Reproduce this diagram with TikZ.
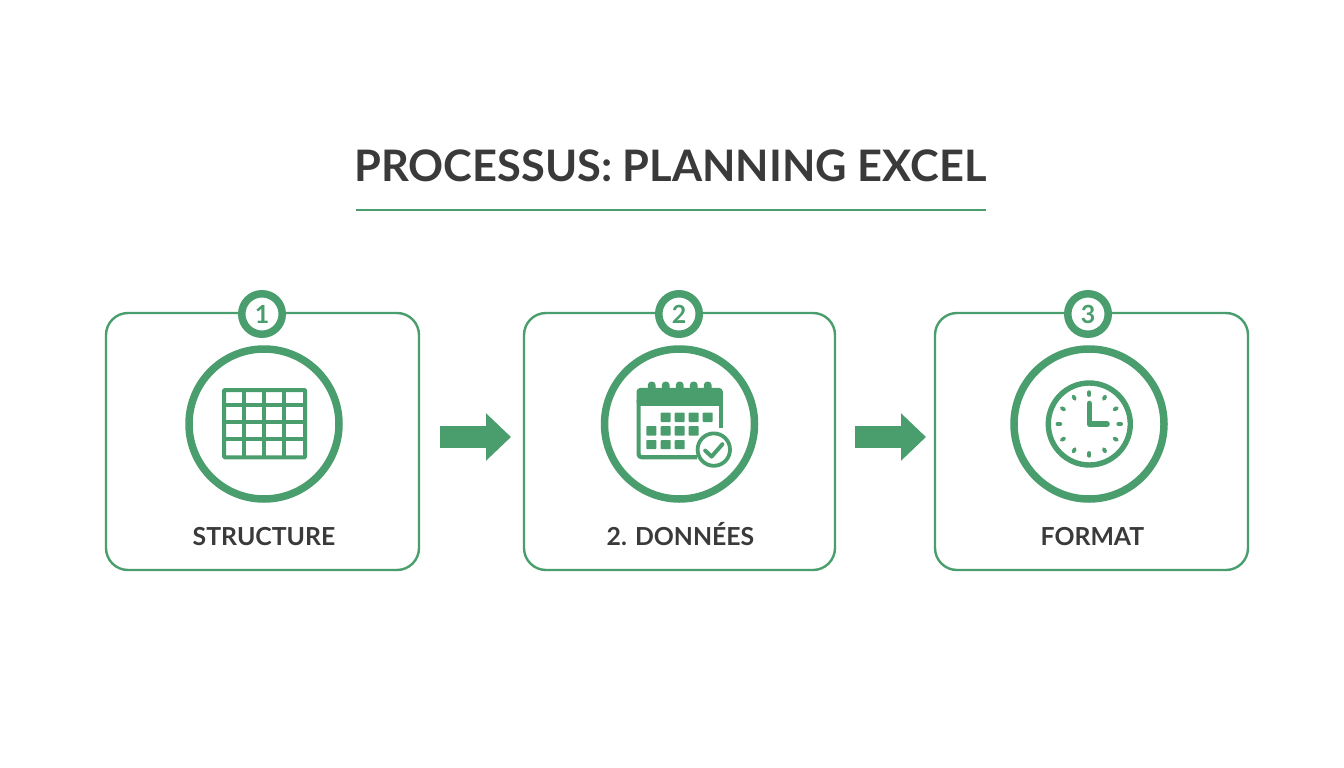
\documentclass[tikz,border=0pt]{standalone}
\usepackage{fontspec}
\setmainfont{Lato}
\usetikzlibrary{arrows.meta}
\definecolor{grn}{HTML}{4A9E6D}
\definecolor{ink}{HTML}{3A3A3A}
\tikzset{
  x=1pt,y=-1pt,
  card/.style={draw=grn,line width=2.4pt,fill=white,rounded corners=22pt,minimum width=313pt,minimum height=257pt,inner sep=0pt,outer sep=0pt},
  badge/.style={circle,draw=grn,line width=7.5pt,fill=white,minimum size=40.5pt,inner sep=0pt,text=grn,font=\fontsize{25}{25}\selectfont\bfseries},
  ring/.style={circle,draw=grn,line width=7.5pt,fill=white,minimum size=150pt,inner sep=0pt},
  lbl/.style={text=ink,inner sep=0pt,anchor=base,font=\fontsize{24.8}{25}\selectfont\bfseries},
  flow/.style={draw=grn,line width=21.5pt,line cap=butt,-{Triangle[length=25pt,width=46pt]}},
  gridline/.style={draw=grn,line width=4pt},
  sq/.style={fill=grn,rounded corners=0.8pt},
  tick/.style={draw=grn,line width=3.8pt,line cap=round},
  hand/.style={draw=grn,line width=5.6pt,line cap=round,line join=round}
}
\begin{document}
\begin{tikzpicture}
\useasboundingbox[fill=white] (0,0) rectangle (1344,768);
% title
\node[text=ink,inner sep=0pt,anchor=base,font=\fontsize{43.4}{46}\selectfont\bfseries] (title) at (670.5,181) {PROCESSUS: PLANNING EXCEL};
\coordinate (ruleA) at (356,210);
\coordinate (ruleB) at (986,210);
\draw[grn,line width=2.6pt] (ruleA) -- (ruleB);
% cards
\node[card] (c1) at (262.5,441.5) {};
\node[card,minimum width=311pt] (c2) at (679.5,441.5) {};
\node[card] (c3) at (1091.5,441.5) {};
% badges
\node[badge] (b1) at (262,314) {1};
\node[badge] (b2) at (679,314) {2};
\node[badge] (b3) at (1088,314) {3};
% rings
\node[ring] (r1) at (264,424) {};
\node[ring] (r2) at (679.5,424) {};
\node[ring] (r3) at (1089,424) {};
% labels
\node[lbl] (l1) at (264,545) {STRUCTURE};
\node[lbl] (l2) at (680.5,545) {2. DONNÉES};
\node[lbl] (l3) at (1092.5,545) {FORMAT};
% arrows
\draw[flow] ([shift={(21,-4.5)}]c1.east) -- ([shift={(-13,-4.5)}]c2.west);
\draw[flow] ([shift={(20,-4.5)}]c2.east) -- ([shift={(-9,-4.5)}]c3.west);
% table icon
\draw[gridline,rounded corners=1pt] (224,390) rectangle (305.2,457.4);
\foreach \x in {243.5,264,284.2} \draw[gridline] (\x,390) -- (\x,457.4);
\foreach \y in {405,422,439} \draw[gridline] (224,\y) -- (305.2,\y);
% calendar icon
\foreach \x in {651.7,665.7,679.7,693.7,707.7} \fill[grn,rounded corners=3.6pt] (\x-3.9,381.5) rectangle (\x+3.9,395);
\fill[grn,rounded corners=4pt] (636.5,405.7) -- (636.5,387.8) -- (722.9,387.8) -- (722.9,405.7) -- cycle;
\fill[grn] (636.5,398) rectangle (722.9,405.7);
\draw[grn,line width=4.2pt,line join=round,rounded corners=3pt] (638.6,400) -- (638.6,457.2) -- (697,457.2);
\draw[grn,line width=4pt] (720.9,400) -- (720.9,428);
\foreach \x in {665.7,679.7,693.7,707.7} \fill[sq] (\x-5,412.6) rectangle (\x+5,422);
\foreach \x in {651.3,665.7,679.7,693.7} \fill[sq] (\x-5,426) rectangle (\x+5,435.6);
\foreach \x in {651.3,665.7,679.7} \fill[sq] (\x-5,440) rectangle (\x+5,449.2);
\draw[grn,line width=3.8pt,fill=white] (713.8,449.6) circle (16.2);
\draw[grn,line width=4pt,line cap=round,line join=round] (705.2,450.6) -- (711.6,456.6) -- (722.4,444.2);
% clock icon
\draw[grn,line width=5.4pt] (1089.3,424) circle (41);
\foreach \a in {0,30,...,330} \draw[tick] (1089.3,424) ++(\a:-29) -- ++(\a:-2.8);
\draw[hand] (1089.3,403.5) -- (1089.3,424) -- (1107,424);
\end{tikzpicture}
\end{document}
